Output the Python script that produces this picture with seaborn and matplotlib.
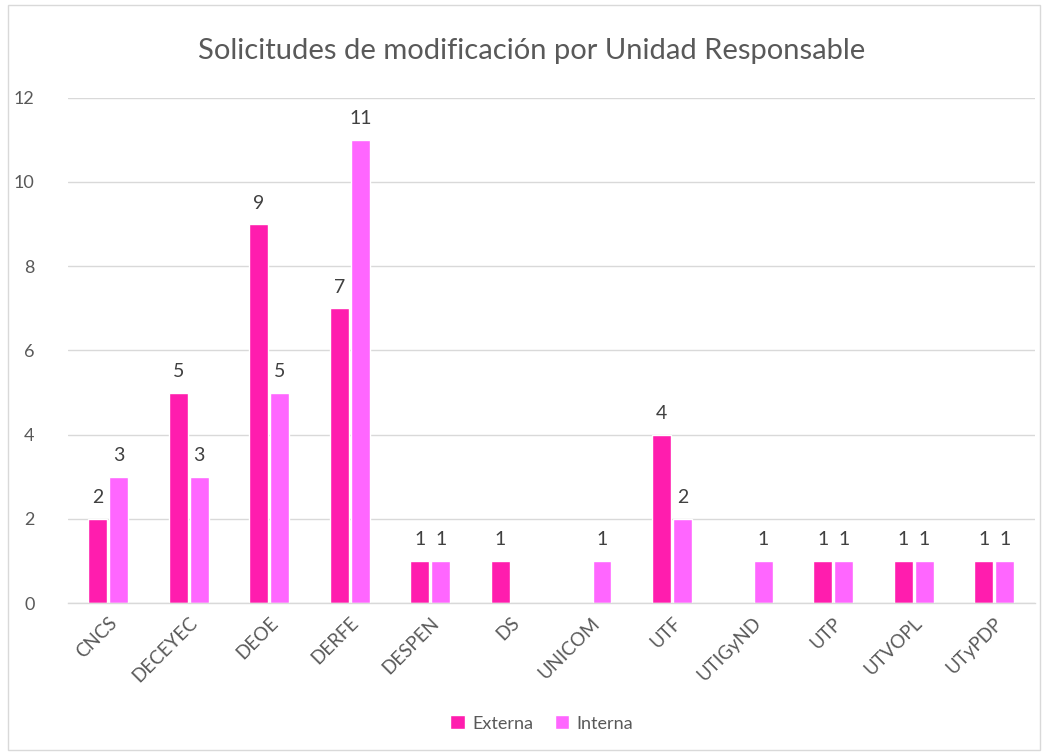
import pandas as pd
import numpy as np
import seaborn as sns
import matplotlib.pyplot as plt
from matplotlib.patches import Rectangle

# datos
unidades = ['CNCS', 'DECEYEC', 'DEOE', 'DERFE', 'DESPEN', 'DS', 'UNICOM',
            'UTF', 'UTIGyND', 'UTP', 'UTVOPL', 'UTyPDP']
externa = [2, 5, 9, 7, 1, 1, 0, 4, 0, 1, 1, 1]
interna = [3, 3, 5, 11, 1, 0, 1, 2, 1, 1, 1, 1]
tipos = ['Externa', 'Interna']
colores = ['#FF1DAE', '#FF66FF']

df = pd.DataFrame({
    'unidad': unidades * 2,
    'tipo': ['Externa'] * len(unidades) + ['Interna'] * len(unidades),
    'n': externa + interna,
})

sns.set_theme(style='white')
plt.rcParams['font.family'] = ['Lato', 'DejaVu Sans']
gris = '#595959'

fig = plt.figure(figsize=(10.44, 7.52), dpi=100)
ax = fig.add_axes([0.065, 0.198, 0.926, 0.672])

sns.barplot(data=df, x='unidad', y='n', hue='tipo', hue_order=tipos,
            palette=colores, width=0.52, gap=0.1, saturation=1, ax=ax)

for cont in ax.containers:
    etiquetas = [f'{int(b.get_height())}' if b.get_height() > 0 else '' for b in cont]
    ax.bar_label(cont, labels=etiquetas, padding=9, fontsize=14, color='#404040')

ax.set_ylim(0, 12)
ax.set_yticks(range(0, 13, 2))
ax.set_xlim(-0.5, len(unidades) - 0.5)
ax.yaxis.grid(True, color='#d9d9d9', linewidth=1)
ax.set_axisbelow(True)
for s in ['left', 'right', 'top']:
    ax.spines[s].set_visible(False)
ax.spines['bottom'].set_color('#d9d9d9')
ax.spines['bottom'].set_linewidth(1)
ax.set_xlabel('')
ax.set_ylabel('')
ax.tick_params(axis='y', labelsize=13, labelcolor=gris, length=0, pad=24)
ax.tick_params(axis='x', labelsize=13.5, labelcolor=gris, length=0, pad=8)
plt.setp(ax.get_xticklabels(), rotation=45, ha='right', rotation_mode='anchor')

ax.set_title('Solicitudes de modificación por Unidad Responsable',
             fontsize=21, color=gris, pad=28, x=0.48)

leg = ax.legend(loc='upper center', bbox_to_anchor=(0.49, -0.19), ncol=2,
                frameon=False, fontsize=13, handlelength=0.8, handleheight=0.8,
                columnspacing=1.2, handletextpad=0.4)
for t in leg.get_texts():
    t.set_color(gris)

fig.patches.append(Rectangle((0.008, 0.003), 0.988, 0.99, transform=fig.transFigure,
                             fill=False, edgecolor='#d9d9d9', linewidth=1))

fig.savefig('out.png', dpi=100)
